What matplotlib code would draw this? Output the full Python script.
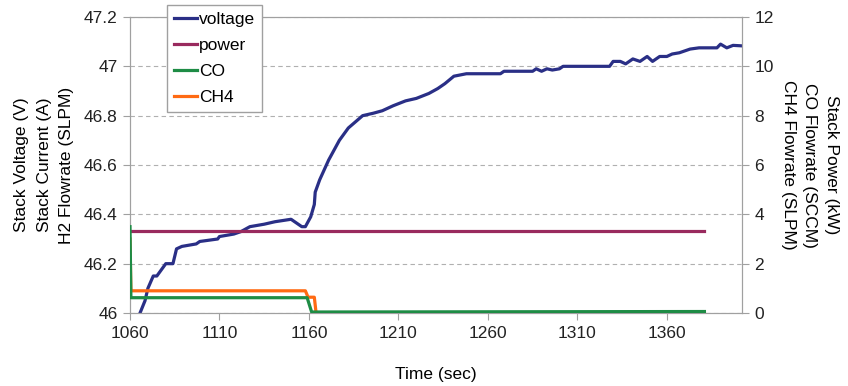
import numpy as np
import matplotlib
matplotlib.use('Agg')
import matplotlib.pyplot as plt
from matplotlib.ticker import MultipleLocator, FuncFormatter

plt.rcParams['font.family'] = ['Liberation Sans', 'DejaVu Sans']
plt.rcParams['font.size'] = 12.5

## Daten
t_volt = [1065.6, 1068.4, 1070, 1073, 1075, 1077, 1080, 1084, 1086, 1089, 1097, 1099, 1109, 1110,
          1118, 1122, 1127, 1135, 1141, 1150, 1152, 1156, 1158, 1161, 1163, 1163.5, 1166,
          1171, 1177, 1182, 1190, 1196, 1201, 1207, 1214, 1220, 1227, 1232, 1236, 1241, 1248, 1267,
          1269, 1285, 1287, 1290, 1293, 1296, 1300, 1302, 1328, 1330, 1334, 1337, 1341, 1345, 1349,
          1352, 1356, 1360, 1363, 1367, 1373, 1378, 1388, 1390, 1393.5, 1397, 1402]
volt = [46.0, 46.05, 46.1, 46.15, 46.15, 46.17, 46.2, 46.2, 46.26, 46.27, 46.28, 46.29, 46.3, 46.31,
        46.32, 46.33, 46.35, 46.36, 46.37, 46.38, 46.37, 46.35, 46.35, 46.39, 46.44, 46.49, 46.54,
        46.62, 46.7, 46.75, 46.8, 46.81, 46.82, 46.84, 46.86, 46.87, 46.89, 46.91, 46.93, 46.96, 46.97,
        46.97, 46.98, 46.98, 46.99, 46.98, 46.99, 46.985, 46.99, 47.0, 47.0, 47.02, 47.02, 47.01,
        47.03, 47.02, 47.04, 47.02, 47.04, 47.04, 47.05, 47.055, 47.07, 47.075, 47.075, 47.09,
        47.075, 47.085, 47.083]

t_power = [1060, 1381]
power = [3.32, 3.32]

t_co = [1060, 1060.5, 1159, 1161.5, 1381]
co = [3.5, 0.62, 0.62, 0.04, 0.06]

t_ch4 = [1060, 1060.5, 1158, 1159.5, 1163, 1164, 1381]
ch4 = [3.0, 0.9, 0.9, 0.64, 0.64, 0.0, 0.0]

xticks = [1060, 1110, 1160, 1210, 1260, 1310, 1360]

## Plotten
fig = plt.figure(figsize=(8.48, 3.86), dpi=100)
ax = fig.add_axes([130/848, 73/386, 612/848, 296/386])
ax2 = ax.twinx()

grau = '#A0A0A0'
for a in (ax, ax2):
    for s in a.spines.values():
        s.set_color(grau)
    a.tick_params(colors=grau, labelcolor='#222222', direction='out', length=5, pad=4)

ax.plot(t_volt, volt, c='#2A2F86', lw=2.3, label='voltage')
ax2.plot(t_power, power, c='#992A5E', lw=2.3, label='power')
ax2.plot(t_ch4, ch4, c='#FF6A13', lw=2.3, label='CH4', zorder=2)
ax2.plot(t_co, co, c='#1E8C45', lw=2.3, label='CO', zorder=3)

ax.set_xlim(1060, 1402)
ax.set_ylim(46, 47.2)
ax2.set_ylim(0, 12)
ax.set_xticks(xticks)
ax.yaxis.set_major_locator(MultipleLocator(0.2))
ax.yaxis.set_major_formatter(FuncFormatter(lambda v, p: '%g' % round(v, 1)))
ax2.yaxis.set_major_locator(MultipleLocator(2))
ax.yaxis.grid(True, ls=(0, (4, 3)), c='#B0B0B0', lw=0.8)

ax.set_xlabel('Time (sec)')
ax.xaxis.set_label_coords(0.5, -(375 - 313) / 296)
ax.xaxis.label.set_va('center')
ax.set_ylabel('Stack Voltage (V)\nStack Current (A)\nH2 Flowrate (SLPM)', linespacing=1.6,
              va='center')
ax.yaxis.set_label_coords((44 - 130) / 612, 0.5)
ax2.set_ylabel('Stack Power (kW)\nCO Flowrate (SCCM)\nCH4 Flowrate (SLPM)', rotation=270,
               linespacing=1.55, va='center')
ax2.yaxis.set_label_coords((810 - 130) / 612, 0.5)

h1, l1 = ax.get_legend_handles_labels()
h2, l2 = ax2.get_legend_handles_labels()
hd = dict(zip(l1 + l2, h1 + h2))
order = ['voltage', 'power', 'CO', 'CH4']
fig.legend([hd[k] for k in order], order, loc='upper left',
           bbox_to_anchor=(167/848, 1 - 5/386), fancybox=False, edgecolor=grau,
           framealpha=1, handlelength=1.3, handletextpad=0.15, labelspacing=0.62,
           borderpad=0.4, borderaxespad=0)

fig.savefig('out.png', dpi=100)
